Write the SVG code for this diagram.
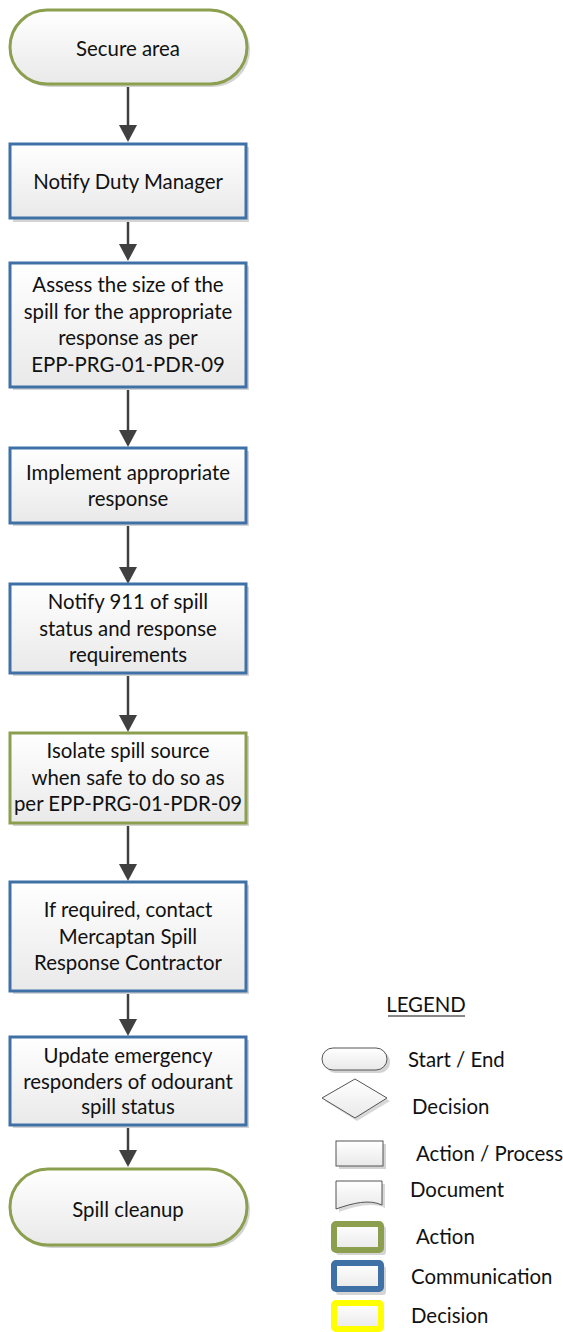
<svg xmlns="http://www.w3.org/2000/svg" width="563" height="1332" viewBox="0 0 563 1332">
<defs>
<linearGradient id="fillg" x1="0" y1="0" x2="0" y2="1">
<stop offset="0" stop-color="#ffffff"/>
<stop offset="1" stop-color="#e9e9e9"/>
</linearGradient>
</defs>
<style>
text{font-family:Lato,"Liberation Sans",sans-serif;font-size:20.4px;fill:#111;text-anchor:middle}
.lg{text-anchor:start}
.sh{fill:#d4d4d4}
.green{fill:url(#fillg);stroke:#8c9f4f;stroke-width:3}
.blue{fill:url(#fillg);stroke:#3f70a6;stroke-width:3}
.thin{fill:url(#fillg);stroke:#555;stroke-width:1}
.conn line{stroke:#404040;stroke-width:2.5}
.conn path{fill:#404040;stroke:none}
</style>
<rect width="563" height="1332" fill="#ffffff"/>

<g id="conn" class="conn">
<line x1="128" y1="86" x2="128" y2="128"/><path d="M119,125 L137,125 L128,142 Z"/>
<line x1="128" y1="219" x2="128" y2="247"/><path d="M119,244 L137,244 L128,261 Z"/>
<line x1="128" y1="388" x2="128" y2="433"/><path d="M119,430 L137,430 L128,447 Z"/>
<line x1="128" y1="524" x2="128" y2="570"/><path d="M119,567 L137,567 L128,584 Z"/>
<line x1="128" y1="673" x2="128" y2="718"/><path d="M119,715 L137,715 L128,732 Z"/>
<line x1="128" y1="823" x2="128" y2="867"/><path d="M119,864 L137,864 L128,881 Z"/>
<line x1="128" y1="991" x2="128" y2="1022"/><path d="M119,1019 L137,1019 L128,1036 Z"/>
<line x1="128" y1="1125" x2="128" y2="1153"/><path d="M119,1150 L137,1150 L128,1167 Z"/>
</g>

<g id="n1">
<rect class="sh" x="13" y="13" width="237" height="74" rx="37"/>
<rect class="green" x="10" y="10" width="237" height="74" rx="37"/>
<text x="128" y="56">Secure area</text>
</g>
<g id="n2">
<rect class="sh" x="13" y="147" width="236" height="75"/>
<rect class="blue" x="10" y="144" width="236" height="74"/>
<text x="128" y="189">Notify Duty Manager</text>
</g>
<g id="n3">
<rect class="sh" x="13" y="266" width="236" height="124"/>
<rect class="blue" x="10" y="263" width="236" height="124"/>
<text x="128" y="292">Assess the size of the</text>
<text x="128" y="318.5">spill for the appropriate</text>
<text x="128" y="345">response as per</text>
<text x="128" y="371.5">EPP-PRG-01-PDR-09</text>
</g>
<g id="n4">
<rect class="sh" x="13" y="451" width="236" height="75"/>
<rect class="blue" x="10" y="448" width="236" height="75"/>
<text x="128" y="480">Implement appropriate</text>
<text x="128" y="506">response</text>
</g>
<g id="n5">
<rect class="sh" x="13" y="587" width="236" height="89"/>
<rect class="blue" x="10" y="584" width="236" height="89"/>
<text x="128" y="609">Notify 911 of spill</text>
<text x="128" y="635.5">status and response</text>
<text x="128" y="662">requirements</text>
</g>
<g id="n6">
<rect class="sh" x="13" y="736" width="236" height="90"/>
<rect class="green" x="10" y="733" width="236" height="90"/>
<text x="128" y="758">Isolate spill source</text>
<text x="128" y="784.5">when safe to do so as</text>
<text x="128" y="811">per EPP-PRG-01-PDR-09</text>
</g>
<g id="n7">
<rect class="sh" x="13" y="885" width="236" height="109"/>
<rect class="blue" x="10" y="882" width="236" height="109"/>
<text x="128" y="917">If required, contact</text>
<text x="128" y="943.5">Mercaptan Spill</text>
<text x="128" y="970">Response Contractor</text>
</g>
<g id="n8">
<rect class="sh" x="13" y="1040" width="236" height="88"/>
<rect class="blue" x="10" y="1037" width="236" height="88"/>
<text x="128" y="1063">Update emergency</text>
<text x="128" y="1088.5">responders of odourant</text>
<text x="128" y="1114">spill status</text>
</g>
<g id="n9">
<rect class="sh" x="13" y="1172" width="237" height="76" rx="38"/>
<rect class="green" x="10" y="1169" width="237" height="76" rx="38"/>
<text x="128" y="1217">Spill cleanup</text>
</g>

<g id="legend">
<text x="426" y="1012">LEGEND</text>
<line x1="388" y1="1016" x2="465" y2="1016" stroke="#111" stroke-width="1.2"/>
<rect class="sh" x="325" y="1051" width="65" height="22" rx="11"/>
<rect class="thin" x="322" y="1048" width="65" height="22" rx="11"/>
<text class="lg" x="408" y="1067">Start / End</text>
<path d="M325,1101 L357,1082 L390,1101 L357,1121 Z" fill="#d8d8d8"/>
<path class="thin" d="M322,1098 L355,1079 L387,1098 L355,1118 Z"/>
<text class="lg" x="412" y="1114">Decision</text>
<rect class="sh" x="339" y="1144" width="47" height="25"/>
<rect class="thin" x="336" y="1141" width="47" height="25"/>
<text class="lg" x="416" y="1161">Action / Process</text>
<path d="M339,1184 L385,1184 L385,1208 C372,1202 356,1206 339,1212 Z" fill="#d8d8d8"/>
<path class="thin" d="M336,1181 L382,1181 L382,1205 C369,1199 353,1203 336,1209 Z"/>
<text class="lg" x="410" y="1197">Document</text>
<rect class="sh" x="336" y="1226" width="50" height="29" rx="3"/>
<rect x="334" y="1224" width="47" height="26" rx="2" fill="url(#fillg)" stroke="#8c9f4f" stroke-width="6"/>
<text class="lg" x="416" y="1244">Action</text>
<rect class="sh" x="336" y="1266" width="50" height="29" rx="3"/>
<rect x="334" y="1263" width="47" height="26" rx="2" fill="url(#fillg)" stroke="#3f70a6" stroke-width="6"/>
<text class="lg" x="411" y="1284">Communication</text>
<rect x="334" y="1303" width="47" height="26" rx="2" fill="url(#fillg)" stroke="#ffff00" stroke-width="6"/>
<text class="lg" x="411" y="1323">Decision</text>
</g>
</svg>
